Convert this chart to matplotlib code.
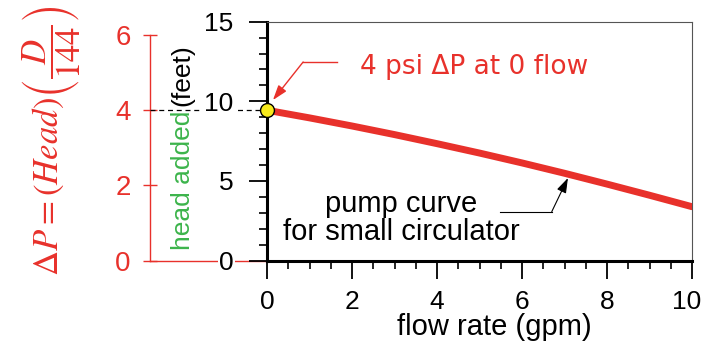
import matplotlib
matplotlib.use('Agg')
import matplotlib.pyplot as plt
from matplotlib.transforms import ScaledTranslation, offset_copy

# pump curve
flow_gpm = [0, 1, 2, 3, 4, 5, 6, 7, 8, 9, 10]
head_ft = [9.44, 8.96, 8.45, 7.91, 7.34, 6.75, 6.13, 5.48, 4.80, 4.10, 3.38]

x_ticks = [0, 2, 4, 6, 8, 10]
y_ticks = [0, 5, 10, 15]
psi_ticks = [0, 2, 4, 6]
ft_per_psi = 2.36

red = '#e8312b'
green = '#3cb44b'

plt.rcParams['font.family'] = ['Liberation Sans', 'DejaVu Sans']
plt.rcParams['mathtext.fontset'] = 'stix'

fig = plt.figure(figsize=(7.03, 3.52), dpi=100)
ax = fig.add_axes([0.3798, 0.2599, 0.6046, 0.6784])

ax.plot(flow_gpm, head_ft, color=red, lw=5, solid_capstyle='round', zorder=3)
ax.plot(flow_gpm[0], head_ft[0], 'o', ms=10, mfc='#f7ea1c', mec='black', mew=1, zorder=5, clip_on=False)

ax.set_xlim(0, 10)
ax.set_ylim(0, 15)
ax.set_xticks(x_ticks)
ax.set_yticks(y_ticks)
ax.set_xticks([i * 0.5 for i in range(21)], minor=True)
ax.set_yticks(range(16), minor=True)
ax.tick_params(which='major', length=13, width=1.3, labelsize=19, direction='out')
ax.tick_params(which='minor', length=6, width=1.2, direction='out')
ax.tick_params(axis='y', which='major', pad=11)
ax.tick_params(axis='x', which='major', pad=8)

for s in ['left', 'bottom']:
    ax.spines[s].set_linewidth(2.2)
for s in ['top', 'right']:
    ax.spines[s].set_linewidth(0.8)
    ax.spines[s].set_color('#555555')

for lab in ax.get_yticklabels():
    lab.set_bbox(dict(facecolor='white', edgecolor='none', pad=1))
# keep the last x label inside the picture
last = ax.get_xticklabels()[-1]
last.set_transform(last.get_transform() + ScaledTranslation(-5 / 100, 0, fig.dpi_scale_trans))

ax.set_xlabel('flow rate (gpm)', fontsize=21)
ax.xaxis.set_label_coords(0.535, -0.22)

# y label: "head added" green + "(feet)" black, one after the other
t1 = ax.text(-0.198, 0.044, 'head added', color=green, fontsize=19, rotation=90,
             ha='center', va='bottom', transform=ax.transAxes)
fig.canvas.draw()
bb = t1.get_window_extent().transformed(ax.transAxes.inverted())
ax.text(-0.198, bb.y1, '(feet)', color='black', fontsize=19, rotation=90,
        ha='center', va='bottom',
        transform=offset_copy(ax.transAxes, fig=fig, y=3, units='points'))

# secondary pressure axis (psi)
ax2 = ax.secondary_yaxis(-0.275, functions=(lambda f: f / ft_per_psi, lambda p: p * ft_per_psi))
ax2.set_yticks(psi_ticks)
ax2.spines['left'].set_color(red)
ax2.spines['left'].set_linewidth(1)
ax2.spines['left'].set_bounds(0, 6)
ax2.tick_params(axis='y', colors=red, direction='inout', length=10, width=1, labelsize=20, pad=9)

ytr = ax.get_yaxis_transform()
ax.plot([-0.275, 0], [0, 0], color=red, lw=1, transform=ytr, clip_on=False, zorder=1)
ax.plot([-0.275, 0], [4 * ft_per_psi] * 2, color='black', lw=0.9, ls=(0, (4, 3)),
        transform=ytr, clip_on=False, zorder=1)

fig.text(0.074, 0.6, r'$\Delta P = \left(Head\right)\left(\dfrac{D}{144}\right)$',
         color=red, fontsize=25, rotation=90, ha='center', va='center')

# annotations
ax.text(2.19, 12.15, '4 psi \u0394P at 0 flow', color=red, fontsize=19,
        family='DejaVu Sans', ha='left', va='center')
ax.plot([1.65, 0.85], [12.47, 12.47], color=red, lw=1)
ax.annotate('', xy=(0.14, 10.08), xytext=(0.85, 12.47),
            arrowprops=dict(arrowstyle='-|>,head_length=0.9,head_width=0.3', color=red, lw=1,
                            shrinkA=0, shrinkB=0))

ax.text(3.15, 2.7, 'pump curve\nfor small circulator', fontsize=21, ha='center', va='center',
        linespacing=1.0)
ax.plot([5.48, 6.70], [3.07, 3.07], color='black', lw=0.8)
ax.annotate('', xy=(7.08, 5.18), xytext=(6.70, 3.07),
            arrowprops=dict(arrowstyle='-|>,head_length=0.9,head_width=0.3', color='black', lw=0.8,
                            shrinkA=0, shrinkB=0))

fig.savefig('out.png', dpi=100)
